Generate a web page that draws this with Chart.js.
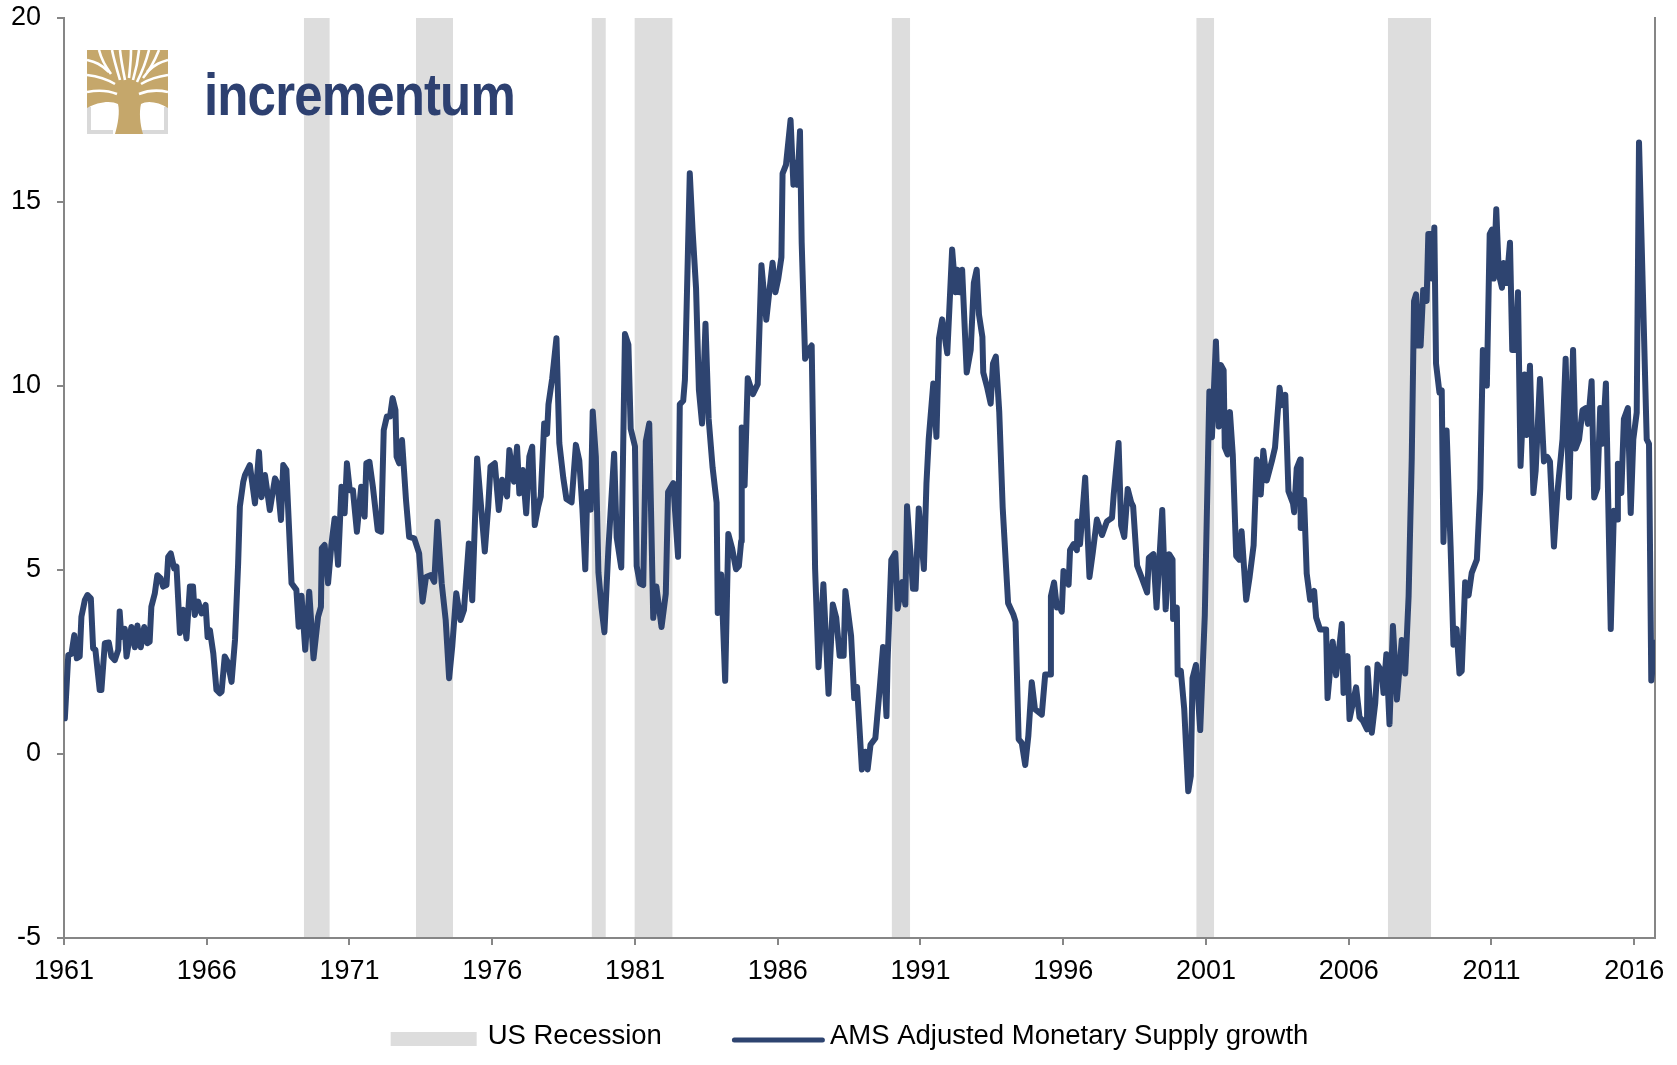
<!DOCTYPE html>
<html>
<head>
<meta charset="utf-8">
<script src="https://cdn.jsdelivr.net/npm/chart.js@4/dist/chart.umd.min.js"></script>
<style>
html,body{margin:0;padding:0;background:#fff;}
#wrap{position:relative;width:1677px;height:1065px;overflow:hidden;background:#fff;}
#c{position:absolute;left:0;top:0;}
#logo{position:absolute;left:87px;top:50px;}
#brand{position:absolute;left:204px;top:65px;font:bold 60px 'Liberation Sans',Arial,sans-serif;line-height:60px;color:#2D4070;letter-spacing:-1px;transform:scaleX(0.85);transform-origin:0 0;white-space:nowrap;}
</style>
</head>
<body>
<div id="wrap">
<canvas id="c" width="1677" height="1065"></canvas>
<svg id="logo" width="81" height="84" viewBox="0 0 81 84">
  <path d="M2,57 V82 H26" stroke="#D9D9D9" stroke-width="4" fill="none"/>
  <path d="M79,57 V82 H55" stroke="#D9D9D9" stroke-width="4" fill="none"/>
  <path fill="#C5A76B" d="M0,0 H81 V58 C72,52 60,50 54,54 C52,62 53,74 56,84 H28 C31,74 33,62 31,54 C24,50 10,52 0,58 Z"/>
  <g stroke="#fff" stroke-width="2.6" fill="none">
    <path d="M30,44 C20,40 10,40 0,42"/>
    <path d="M28,34 C18,28 8,26 0,25"/>
    <path d="M22,22 C14,14 8,12 0,10"/>
    <path d="M24,24 C18,16 14,8 12,0"/>
    <path d="M33,30 C30,20 27,10 25,0"/>
    <path d="M38,30 C36,20 34,10 33,0"/>
    <path d="M42,28 C43,18 44,10 44,0"/>
    <path d="M46,30 C49,20 51,10 52,0"/>
    <path d="M50,32 C55,22 59,12 62,0"/>
    <path d="M56,28 C63,20 68,10 72,0"/>
    <path d="M52,44 C62,40 72,40 81,42"/>
    <path d="M54,34 C64,28 74,26 81,25"/>
    <path d="M60,22 C68,14 74,12 81,10"/>
  </g>
</svg>
<div id="brand">incrementum</div>
</div>
<script>
// ---- Data ----
const tickYears = [1961, 1966, 1971, 1976, 1981, 1986, 1991, 1996, 2001, 2006, 2011, 2016];
const yTicks = [-5, 0, 5, 10, 15, 20];
const legendLabels = ['US Recession', 'AMS Adjusted Monetary Supply growth'];

const recessionStart = [1969.40, 1973.33, 1979.48, 1980.98, 1989.99, 2000.66, 2007.37];
const recessionEnd   = [1970.31, 1974.63, 1979.98, 1982.32, 1990.64, 2001.29, 2008.89];

const years = [
1961.03,1961.15,1961.26,1961.36,1961.45,1961.55,1961.61,1961.73,1961.82,1961.94,
1962.02,1962.10,1962.25,1962.31,1962.43,1962.57,1962.66,1962.78,1962.90,1962.95,
1963.01,1963.13,1963.19,1963.36,1963.48,1963.57,1963.69,1963.81,1963.92,1964.00,
1964.06,1964.18,1964.27,1964.39,1964.47,1964.59,1964.65,1964.74,1964.86,1964.94,
1965.06,1965.17,1965.29,1965.41,1965.52,1965.58,1965.70,1965.82,1965.96,1966.03,
1966.11,1966.23,1966.34,1966.46,1966.52,1966.63,1966.73,1966.87,1966.99,1967.10,
1967.16,1967.28,1967.34,1967.51,1967.69,1967.83,1967.92,1968.04,1968.21,1968.39,
1968.48,1968.60,1968.68,1968.79,1968.97,1969.14,
1969.22,1969.32,1969.45,1969.59,1969.74,1969.90,1970.00,1970.03,1970.13,1970.25,
1970.37,1970.48,1970.60,1970.72,1970.83,1970.91,1971.01,1971.12,1971.26,1971.41,
1971.53,1971.59,1971.70,1971.82,1971.99,1972.11,1972.20,1972.31,1972.42,1972.51,
1972.61,1972.65,1972.74,1972.84,1972.98,1973.09,1973.27,1973.44,1973.56,1973.68,
1973.85,1973.97,1974.08,1974.23,1974.37,1974.49,1974.60,1974.74,1974.89,1975.01,
1975.18,1975.30,1975.47,1975.59,1975.74,1975.86,1975.94,1976.09,1976.23,1976.35,
1976.52,1976.60,1976.76,1976.87,1976.95,1977.07,1977.19,1977.30,1977.40,1977.49,
1977.61,
1977.70,1977.82,1977.92,1977.97,1978.10,1978.25,1978.35,1978.49,1978.60,1978.78,
1978.93,1979.05,1979.16,1979.26,1979.33,1979.45,1979.52,1979.63,1979.72,1979.83,
1979.93,1980.07,1980.27,1980.36,1980.52,1980.65,1980.77,1980.85,1981.00,1981.06,
1981.17,1981.29,1981.38,1981.50,1981.64,1981.75,1981.93,1982.08,1982.16,1982.34,
1982.51,1982.57,1982.69,1982.75,1982.92,1983.02,1983.14,1983.24,1983.35,1983.47,
1983.58,1983.72,1983.86,1983.90,1984.02,1984.16,1984.27,1984.40,1984.54,1984.64,
1984.72,1984.74,1984.84,1984.95,1985.13,1985.30,
1985.43,1985.60,1985.69,1985.82,1985.92,1986.02,1986.13,1986.17,1986.29,1986.45,
1986.55,1986.64,1986.69,1986.78,1986.84,1986.96,1987.13,1987.19,1987.31,1987.43,
1987.60,1987.78,1987.93,1988.05,1988.17,1988.31,1988.37,1988.57,1988.68,1988.78,
1988.95,1989.07,1989.15,1989.25,1989.42,1989.57,1989.69,1989.81,1989.85,1989.98,
1990.12,1990.20,1990.36,1990.47,1990.53,1990.74,1990.83,1990.94,1991.12,1991.21,
1991.29,1991.45,1991.56,1991.65,1991.76,1991.94,1992.11,1992.23,1992.29,1992.37,
1992.46,1992.62,1992.76,1992.87,1992.97,1993.05,1993.17,1993.20,1993.34,1993.46,
1993.54,1993.64,1993.76,1993.88,1994.07,1994.25,1994.33,1994.44,1994.55,1994.67,
1994.78,1994.90,1995.01,1995.25,1995.37,1995.54,1995.57,1995.68,1995.78,1995.87,
1995.95,1996.01,1996.19,1996.24,1996.36,1996.48,1996.50,1996.59,1996.77,1996.92,
1997.04,1997.18,1997.36,1997.53,1997.71,1997.77,1997.94,1998.03,1998.14,1998.26,
1998.38,1998.45,1998.53,1998.59,1998.77,1998.94,1999.00,1999.16,1999.27,1999.47,
1999.59,1999.71,1999.83,1999.85,1999.98,2000.01,2000.12,2000.24,2000.38,2000.47,
2000.53,2000.65,2000.80,2000.96,2001.12,2001.21,2001.35,
2001.45,2001.52,2001.62,2001.66,2001.76,2001.84,2001.94,2002.06,2002.17,2002.25,
2002.41,2002.53,2002.67,2002.78,2002.92,2003.01,2003.13,2003.31,2003.42,2003.58,
2003.66,2003.78,2003.89,2004.05,2004.09,2004.18,2004.30,2004.32,2004.44,2004.53,
2004.65,2004.79,2004.86,2005.00,2005.21,2005.26,2005.44,2005.56,2005.76,2005.82,
2005.96,2006.03,2006.26,2006.38,2006.50,2006.64,2006.66,2006.81,2006.93,2007.01,
2007.16,2007.22,2007.32,2007.43,2007.55,2007.69,
2007.86,2007.98,2008.10,2008.21,2008.29,2008.36,2008.44,2008.52,2008.61,2008.73,
2008.79,2008.87,2008.91,2009.00,2009.06,2009.18,2009.26,2009.32,2009.43,2009.57,
2009.67,2009.78,2009.88,2009.96,2010.08,2010.20,2010.31,2010.49,2010.61,2010.70,
2010.84,2010.94,2011.02,2011.08,2011.17,2011.26,2011.37,2011.43,2011.53,2011.65,
2011.73,2011.85,2011.93,2012.02,2012.16,2012.23,2012.35,2012.47,2012.55,2012.70,
2012.84,2012.96,2013.05,2013.19,2013.31,2013.49,2013.60,2013.72,2013.86,2013.95,
2014.07,2014.19,2014.30,2014.38,2014.51,2014.60,2014.71,2014.81,2014.89,2015.01,
2015.18,2015.29,2015.41,2015.43,2015.55,2015.64,2015.78,2015.88,2015.97,2016.09,
2016.17,2016.44,2016.52,2016.60,2016.74
];

const amsGrowth = [
0.97,2.69,2.72,3.23,2.60,2.65,3.73,4.18,4.32,4.23,
2.87,2.83,1.74,1.74,3.01,3.03,2.65,2.55,2.83,3.87,
3.18,3.40,2.65,3.45,2.90,3.49,2.90,3.45,3.01,3.05,
4.00,4.36,4.86,4.77,4.55,4.59,5.36,5.45,5.04,5.09,
3.29,3.92,3.14,4.55,4.55,3.78,4.14,3.82,4.05,3.18,
3.37,2.73,1.74,1.65,1.69,2.65,2.51,1.96,3.10,5.18,
6.72,7.40,7.58,7.85,6.81,8.21,6.98,7.58,6.63,7.49,
7.35,6.36,7.85,7.72,4.64,4.46,
3.46,4.30,2.83,4.41,2.60,3.73,4.00,5.59,5.68,4.64,
5.72,6.40,5.14,7.26,6.54,7.90,7.17,7.17,6.04,7.26,
6.45,7.90,7.94,7.26,6.08,6.04,8.80,9.17,9.17,9.67,
9.35,8.08,7.90,8.53,6.90,5.90,5.86,5.45,4.14,4.81,
4.86,4.68,6.31,4.64,3.64,2.06,2.93,4.37,3.64,3.91,
5.72,4.18,8.03,6.90,5.50,6.72,7.81,7.90,6.63,7.45,
7.00,8.26,7.40,8.35,7.08,7.72,6.54,8.08,8.35,6.22,
6.72,
7.00,8.98,8.70,9.50,10.20,11.30,8.45,7.50,6.93,6.84,
8.40,7.97,6.64,5.02,7.12,6.64,9.31,8.07,4.93,3.97,
3.31,5.59,8.16,5.88,5.07,11.41,11.12,8.84,8.36,5.11,
4.64,4.59,8.50,8.98,3.70,4.55,3.45,4.36,7.12,7.36,
5.36,9.50,9.60,10.17,15.78,14.20,12.65,9.89,8.98,11.69,
9.12,7.78,6.83,3.83,4.88,1.99,5.98,5.60,5.02,5.11,
5.78,8.87,7.30,10.21,9.78,10.05,
13.28,11.80,12.45,13.35,12.55,12.92,13.50,15.77,16.01,17.23,
15.47,16.07,15.47,16.92,13.89,10.74,11.04,11.10,5.03,2.36,
4.61,1.64,4.06,3.70,2.67,2.67,4.43,3.21,1.52,1.82,
-0.42,0.06,-0.42,0.25,0.43,1.76,2.91,1.03,2.54,5.28,
5.46,3.95,4.67,4.06,6.73,4.49,4.49,6.67,5.03,7.35,
8.56,10.07,8.62,11.30,11.81,10.89,13.71,12.55,13.16,12.55,
13.16,10.37,10.98,12.80,13.16,11.94,11.33,10.37,9.95,9.52,
10.61,10.80,9.30,6.70,4.10,3.80,3.60,0.40,0.30,-0.30,
0.50,1.95,1.22,1.07,2.16,2.16,4.29,4.66,3.98,4.03,
3.87,4.97,4.60,5.54,5.70,5.54,6.32,5.70,7.51,4.81,
5.49,6.37,5.95,6.32,6.42,7.05,8.45,6.21,5.90,7.20,
6.84,6.73,5.79,5.12,4.75,4.39,5.33,5.43,3.98,6.63,
3.93,5.43,5.28,3.67,3.98,2.16,2.26,1.22,-1.01,-0.60,
2.06,2.42,0.65,3.77,9.85,8.61,11.21,
8.90,10.57,10.43,8.33,8.14,9.29,8.14,5.38,5.28,6.05,
4.19,4.81,5.67,8.00,7.05,8.24,7.43,7.96,8.33,9.95,
9.48,9.76,7.14,6.81,6.57,7.76,8.00,6.14,6.90,4.90,
4.19,4.43,3.71,3.38,3.38,1.52,3.05,2.14,3.53,1.66,
2.66,0.95,1.81,1.00,0.90,0.67,2.33,0.58,1.38,2.43,
2.24,1.66,2.71,0.81,3.48,1.48,
3.10,2.19,4.30,8.06,12.31,12.49,11.10,11.10,12.61,12.31,
14.13,14.13,12.92,14.31,10.61,9.82,9.88,5.76,8.79,5.64,
2.97,3.40,2.19,2.25,4.67,4.31,4.92,5.28,7.22,10.98,
10.01,14.13,14.25,12.92,14.80,13.04,12.67,13.34,12.80,13.89,
10.98,10.98,12.55,7.83,10.31,8.67,10.55,7.09,7.70,10.19,
7.95,8.07,7.95,5.64,7.09,8.55,10.74,6.97,10.98,8.30,
8.55,9.34,9.40,8.97,10.13,6.97,7.22,9.40,8.43,10.07,
3.40,6.61,6.37,7.89,7.09,9.10,9.40,6.55,8.55,9.28,
16.62,8.55,8.43,2.00,3.03
];

// ---- Styling ----
const NAVY = '#2E4470';
const BAND = '#DDDDDD';
const AXIS = '#868686';
const FONT = "'Liberation Sans', Arial, Helvetica, sans-serif";

Chart.defaults.font.family = FONT;
Chart.defaults.font.size = 27;
Chart.defaults.color = '#000';

const amsPoints = years.map((x, i) => ({x: x, y: amsGrowth[i]}));
const recessionPoints = [];
recessionStart.forEach((s, i) => {
  recessionPoints.push({x: s, y: 1});
  recessionPoints.push({x: recessionEnd[i], y: 1});
  recessionPoints.push({x: recessionEnd[i], y: null});
});

// Legend drawn below the plot (Excel-like keys)
const bottomLegend = {
  id: 'bottomLegend',
  afterDraw(chart) {
    const ctx = chart.ctx;
    const a = chart.chartArea;
    ctx.save();
    ctx.font = '27.5px ' + FONT;
    ctx.textBaseline = 'middle';
    ctx.textAlign = 'left';
    const boxW = 86, boxGap = 11, itemGap = 70, lineW = 93, lineGap = 5;
    const w0 = ctx.measureText(legendLabels[0]).width;
    const w1 = ctx.measureText(legendLabels[1]).width;
    const total = boxW + boxGap + w0 + itemGap + lineW + lineGap + w1;
    let x = (a.left + a.right) / 2 - 10 - total / 2;
    const ty = chart.height - 29;
    ctx.fillStyle = BAND;
    ctx.fillRect(x, ty - 4, boxW, 14);
    x += boxW + boxGap;
    ctx.fillStyle = '#000';
    ctx.fillText(legendLabels[0], x, ty);
    x += w0 + itemGap;
    ctx.strokeStyle = NAVY;
    ctx.lineWidth = 5;
    ctx.lineCap = 'round';
    ctx.beginPath();
    ctx.moveTo(x + 2.5, ty + 4);
    ctx.lineTo(x + lineW - 2.5, ty + 4);
    ctx.stroke();
    x += lineW + lineGap;
    ctx.fillStyle = '#000';
    ctx.fillText(legendLabels[1], x, ty);
    ctx.restore();
  }
};

new Chart(document.getElementById('c'), {
  type: 'line',
  data: {
    datasets: [
      {
        label: legendLabels[0],
        data: recessionPoints,
        yAxisID: 'y2',
        borderWidth: 0,
        borderColor: BAND,
        backgroundColor: BAND,
        pointRadius: 0,
        fill: 'start',
        spanGaps: false,
        tension: 0,
        order: 2
      },
      {
        label: legendLabels[1],
        data: amsPoints,
        yAxisID: 'y',
        borderColor: NAVY,
        backgroundColor: NAVY,
        borderWidth: 6,
        borderJoinStyle: 'round',
        borderCapStyle: 'round',
        pointRadius: 0,
        fill: false,
        tension: 0,
        order: 1
      }
    ]
  },
  plugins: [bottomLegend],
  options: {
    responsive: false,
    animation: false,
    devicePixelRatio: 1,
    layout: { padding: { left: 0, right: 0, top: 18, bottom: 72 } },
    plugins: {
      tooltip: { enabled: false },
      legend: { display: false }
    },
    scales: {
      x: {
        type: 'linear',
        position: 'bottom',
        min: 1961,
        max: 2016.73,
        afterBuildTicks: (s) => { s.ticks = tickYears.map(v => ({ value: v })); },
        afterFit: (s) => { s.height = 55; },
        ticks: { autoSkip: false, maxRotation: 0, padding: 10, color: '#000', callback: (v) => String(v) },
        grid: { display: true, drawOnChartArea: false, drawTicks: true, tickLength: 7, color: AXIS, lineWidth: 2 },
        border: { display: true, color: AXIS, width: 2, z: 1 }
      },
      y: {
        type: 'linear',
        position: 'left',
        min: -5,
        max: 20,
        afterBuildTicks: (s) => { s.ticks = yTicks.map(v => ({ value: v })); },
        afterFit: (s) => { s.width = 64; s.paddingTop = 0; s.paddingBottom = 0; },
        ticks: { padding: 16, color: '#000', callback: (v) => String(v) },
        grid: { display: true, drawOnChartArea: false, drawTicks: true, tickLength: 7, color: AXIS, lineWidth: 2 },
        border: { display: true, color: AXIS, width: 2 }
      },
      y2: {
        type: 'linear',
        position: 'right',
        min: 0,
        max: 1,
        afterFit: (s) => { s.width = 22; s.paddingTop = 0; s.paddingBottom = 0; },
        ticks: { display: false },
        grid: { display: false },
        border: { display: true, color: AXIS, width: 2 }
      }
    }
  }
});
</script>
</body>
</html>
